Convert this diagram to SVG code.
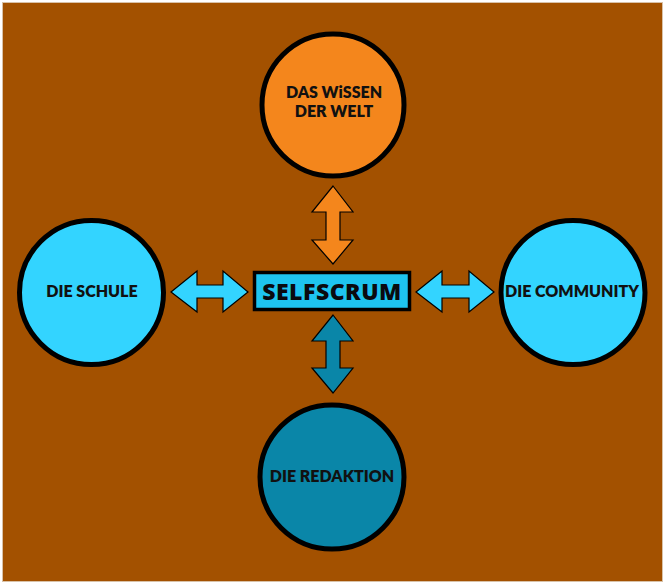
<svg xmlns="http://www.w3.org/2000/svg" width="665" height="584" viewBox="0 0 665 584">
<style>
.lbl{font-family:Lato,"Open Sans","Liberation Sans",sans-serif;font-weight:800;font-size:16px;fill:#111;text-anchor:middle}
.node{stroke:#000;stroke-width:5}
.arr{stroke:#000;stroke-width:1.2;stroke-linejoin:miter}
</style>
<rect x="0" y="0" width="665" height="584" fill="#fff"/>
<rect x="2.5" y="2.5" width="660" height="579" fill="#A35100" stroke="#d9c2a8" stroke-width="1"/>
<g id="connectors">
<polygon class="arr" fill="#F4861C" points="333,186 353,212 340,212 340,240 353,240 333,264 312,240 326,240 326,212 312,212"/>
<polygon class="arr" fill="#0A86A8" points="333,315 353,341 340,341 340,368 353,368 333,393 312,368 326,368 326,341 312,341"/>
<polygon class="arr" fill="#33D4FF" points="171,292 197,271 197,285 223,285 223,271 248,292 223,312 223,298 197,298 197,312"/>
<polygon class="arr" fill="#33D4FF" points="416,292 442,271 442,285 469,285 469,271 494,292 469,312 469,298 442,298 442,312"/>
</g>
<g id="center">
<rect x="254.5" y="272.5" width="155" height="37" fill="#1EC4F0" stroke="#000" stroke-width="3.5"/>
<text x="332" y="300" style="font-family:'Open Sans','Noto Sans',sans-serif;font-weight:800;font-size:23px;fill:#0a0a0f;text-anchor:middle;letter-spacing:0.5px">SELFSCRUM</text>
</g>
<g id="wissen">
<circle class="node" cx="333" cy="105" r="71" fill="#F4861C"/>
<text class="lbl" x="334" y="98">DAS WiSSEN</text>
<text class="lbl" x="334" y="117">DER WELT</text>
</g>
<g id="schule">
<circle class="node" cx="91.5" cy="292.5" r="72" fill="#33D4FF"/>
<text class="lbl" x="92" y="297">DIE SCHULE</text>
</g>
<g id="community">
<circle class="node" cx="573" cy="292.5" r="72" fill="#33D4FF"/>
<text class="lbl" x="572" y="297">DIE COMMUNITY</text>
</g>
<g id="redaktion">
<circle class="node" cx="332" cy="477" r="72" fill="#0A86A8"/>
<text class="lbl" x="332" y="482">DIE REDAKTION</text>
</g>
</svg>
